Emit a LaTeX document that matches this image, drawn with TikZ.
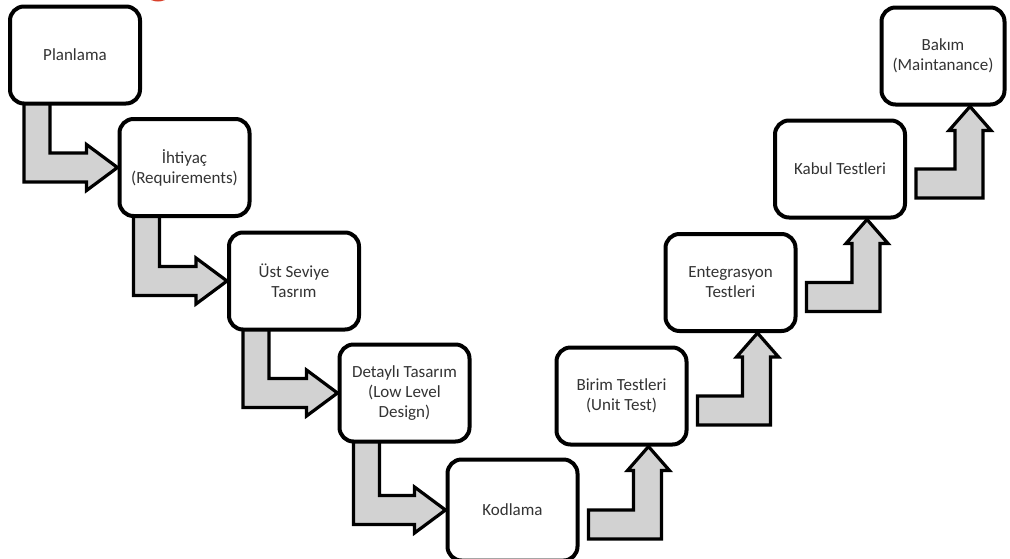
\documentclass[tikz,border=0pt]{standalone}
\usepackage{fontspec}
\setmainfont{Carlito}
\usetikzlibrary{calc,backgrounds}
\definecolor{arrowgray}{HTML}{D2D2D2}
\definecolor{txtgray}{HTML}{333333}
\definecolor{logored}{HTML}{D9402B}
\tikzset{
  stagebox/.style={draw=black, line width=4pt, fill=white, rounded corners=14pt,
    minimum width=130pt, minimum height=97pt, align=center, text=txtgray,
    font=\fontsize{17}{20}\selectfont, inner sep=2pt},
  flowarrow/.style={draw=black, line width=3.2pt, fill=arrowgray, line join=miter, miter limit=4}
}
\begin{document}
\begin{tikzpicture}[x=1pt,y=1pt]
\useasboundingbox (0,0) rectangle (1010,-558);
\clip (0,0) rectangle (1010,-558);

\node[stagebox] (plan) at (75,-55) {Planlama};
\node[stagebox] (iht) at (184.5,-167.5) {İhtiyaç\\(Requirements)};
\node[stagebox] (ust) at (294,-281) {Üst Seviye\\Tasrım};
\node[stagebox] (det) at (404.5,-393) {Detaylı Tasarım\\(Low Level\\Design)};
\node[stagebox, minimum height=101pt] (kod) at (512.5,-510) {Kodlama};
\node[stagebox] (bir) at (621.5,-396) {Birim Testleri\\(Unit Test)};
\node[stagebox] (ent) at (730.5,-282.5) {Entegrasyon\\Testleri};
\node[stagebox] (kab) at (840,-169) {Kabul Testleri};
\node[stagebox, minimum width=123pt] (bak) at (943,-56) {Bakım\\(Maintanance)};

\begin{scope}[on background layer]
\fill[white] (0,0) rectangle (1010,-558);
\fill[logored] (158,15) circle (16.5);
% down-right arrows
\foreach \a/\b in {plan/iht, iht/ust, ust/det, det/kod}{
  \draw[flowarrow] let \p1=(\a.south west), \p2=(\b.west) in
   (\x1+16,\y1+4) -- (\x1+16,\y2-14.5) -- (\x2-31,\y2-14.5) -- (\x2-31,\y2-23)
   -- (\x2,\y2) -- (\x2-31,\y2+23) -- (\x2-31,\y2+14.5) -- (\x1+42,\y2+14.5)
   -- (\x1+42,\y1+4) -- cycle;
}
% up-right arrows
\foreach \a/\b in {kod/bir, bir/ent, ent/kab, kab/bak}{
  \draw[flowarrow] let \p1=(\a.east), \p2=(\b.south) in
   (\x1+9,\y1) -- (\x1+9,\y1-29) -- (\x2+40,\y1-29) -- (\x2+40,\y2-24)
   -- (\x2+48,\y2-24) -- (\x2+27,\y2) -- (\x2+6,\y2-24) -- (\x2+12,\y2-24)
   -- (\x2+12,\y1) -- cycle;
}
\end{scope}
\end{tikzpicture}
\end{document}
